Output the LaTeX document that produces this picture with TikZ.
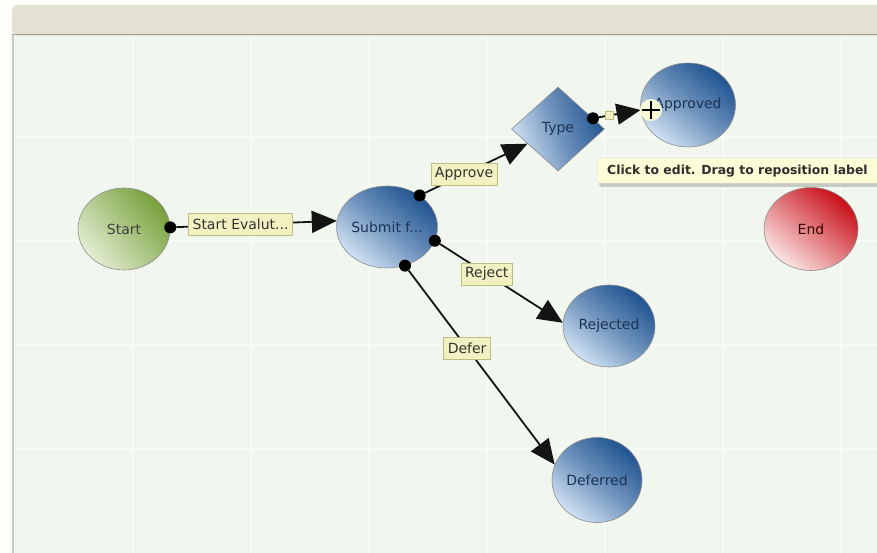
\documentclass[tikz,border=0pt]{standalone}
\usepackage{fontspec}
\setmainfont{DejaVu Sans}
\usetikzlibrary{arrows.meta,shapes.geometric,calc}
\definecolor{pagebg}{HTML}{FDFDF9}
\definecolor{canvasbg}{HTML}{F1F7EF}
\definecolor{barbg}{HTML}{E3E1D4}
\definecolor{barline}{HTML}{A3A397}
\definecolor{sideline}{HTML}{C6CBC2}
\definecolor{blueD}{HTML}{1F5390}
\definecolor{blueL}{HTML}{D0E1F3}
\definecolor{greenD}{HTML}{76A03A}
\definecolor{greenL}{HTML}{E3EDD3}
\definecolor{redD}{HTML}{C80E18}
\definecolor{redL}{HTML}{FBE5E5}
\definecolor{lblfill}{HTML}{F1F1C2}
\definecolor{lbldraw}{HTML}{BDBD86}
\definecolor{tipfill}{HTML}{FCFCD6}
\definecolor{navytext}{HTML}{1B3354}
\begin{document}
\begin{tikzpicture}[x=1pt,y=-1pt,
  statenode/.style={ellipse, draw=black!45, line width=0.6pt, inner sep=0pt,
    minimum width=92pt, minimum height=82pt, font=\fontsize{14}{16}\selectfont},
  bluefill/.style={top color=blueD, bottom color=blueL, middle color=blueD!55!blueL, shading angle=-40, text=navytext},
  greenfill/.style={top color=greenD, bottom color=greenL, shading angle=-50, text=black!75},
  redfill/.style={top color=redD, bottom color=redL, shading angle=-40, text=black!80!red},
  decisionnode/.style={diamond, draw=black!45, line width=0.6pt, inner sep=0pt,
    minimum width=93pt, minimum height=84pt, font=\fontsize{14}{16}\selectfont},
  dot/.style={circle, fill=black, inner sep=0pt, minimum size=12pt},
  conn/.style={line width=1.8pt, draw=black!92, -{Triangle[length=25pt,width=22pt]}},
  lbl/.style={rectangle, fill=lblfill, draw=lbldraw, line width=0.8pt, inner xsep=4pt,
    inner ysep=0pt, minimum height=22pt, text=black!80, font=\fontsize{14}{16}\selectfont},
  tinylbl/.style={rectangle, fill=lblfill, draw=lbldraw, line width=0.6pt, inner sep=0pt,
    minimum width=8pt, minimum height=8pt},
  gridline/.style={draw=white, line width=2pt, opacity=0.45}
]
\useasboundingbox (0,0) rectangle (877,553);
% page and canvas
\fill[pagebg] (0,0) rectangle (877,553);
\fill[canvasbg] (13,34) rectangle (877,553);
\foreach \gx in {133,251,369,487,605,723,841} \draw[gridline] (\gx,36) -- (\gx,553);
\foreach \gy in {137,241,345,449} \draw[gridline] (14,\gy) -- (877,\gy);
% top bar
\fill[barbg, rounded corners=6pt] (12,36) -- (12,5) -- (890,5) -- (890,36) -- cycle;
\draw[barline, line width=1.5pt] (12,34.5) -- (877,34.5);
\draw[sideline, line width=1.5pt] (12.8,35) -- (12.8,553);

% nodes
\node[statenode, greenfill] (start) at (124,229) {Start};
\node[statenode, bluefill] (submit) at (387,227) {Submit f...};
\node[decisionnode, top color=blueD, bottom color=blueL, middle color=blueD!55!blueL, shading angle=-70, text=navytext] (type) at (558,129) {Type};
\node[statenode, bluefill, minimum width=94pt, minimum height=84pt] (approved) at (688,105) {Approved};
\node[statenode, redfill, minimum width=94pt, minimum height=83pt] (endnode) at (811,229) {End};
\node[statenode, bluefill] (rejected) at (609,326) {Rejected};
\node[statenode, bluefill, minimum width=90pt, minimum height=85pt] (deferred) at (597,480) {Deferred};

% connection dots
\node[dot] (d1) at (start.2) {};
\node[dot] (d2) at (submit.44) {};
\node[dot] (d3) at (submit.-16) {};
\node[dot] (d4) at (submit.-65) {};
\node[dot] (d5) at (type.17) {};

% connectors
\draw[conn] (d1) -- node[lbl, pos=0.4] {Start Evalut...} (submit.173);
\draw[conn] (d2) -- node[lbl, pos=0.38] {Approve} (type);
\draw[conn] (d3) -- node[lbl, pos=0.38] {Reject} (rejected.176);
\draw[conn] (d4) -- node[lbl, pos=0.4] {Defer} (deferred.160);
\draw[conn, -{Triangle[length=24pt,width=21pt]}] (d5) -- node[tinylbl, pos=0.25] {} (approved.186);

% cursor
\fill[tipfill, opacity=0.95] (651,110) circle (11pt);
\draw[black, line width=2pt] (642,110) -- (660,110);
\draw[black, line width=2pt] (651,101) -- (651,119);

% tooltip
\fill[black, opacity=0.18, rounded corners=3pt] (599,160) rectangle (890,187);
\node[rectangle, fill=tipfill, draw=black!12, rounded corners=3pt, anchor=north west,
  minimum width=300pt, minimum height=25pt, inner sep=0pt] (tipbox) at (597,158) {};
\node[anchor=west, inner sep=0pt, text=black!82, font=\bfseries\fontsize{12.4}{14}\selectfont]
  (tiptext) at (607,171) {Click to edit. Drag to reposition label};
\end{tikzpicture}
\end{document}
